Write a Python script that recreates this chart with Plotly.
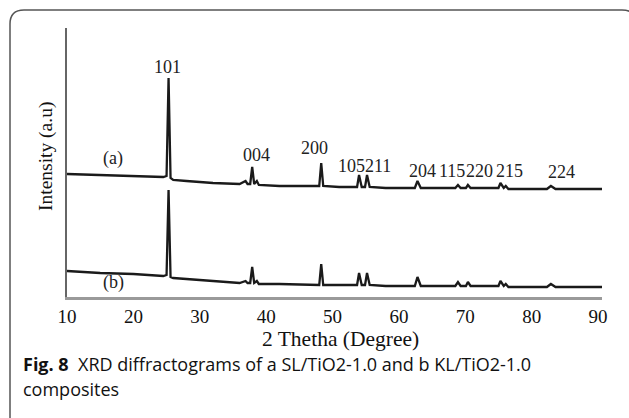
import plotly.graph_objects as go

# ---------------- data ----------------
two_theta_a = [10, 15, 20, 24.5, 25.0, 25.3, 25.6, 26.0, 28, 32, 36, 36.9, 37.2, 37.6, 37.9, 38.2, 38.6, 38.9,
               42, 46, 48.0, 48.3, 48.6, 51, 53.7, 54.0, 54.4, 54.9, 55.2, 55.6, 58, 62.4, 62.8, 63.3,
               68.5, 68.9, 69.3, 70.1, 70.4, 70.8, 75.0, 75.3, 75.8, 76.1, 76.5, 82.3, 82.9, 83.6, 90.6]
intensity_a = [123, 122, 121, 120, 121, 219, 119, 117, 116, 114, 113, 116, 113, 113, 130, 113, 116, 112,
               111, 111, 111, 134, 111, 110, 110, 122, 110, 110, 122, 110, 109, 109, 116, 109,
               109, 112, 109, 109, 112, 109, 109, 114, 109, 111, 108, 108, 111, 108, 108]

two_theta_b = [10, 15, 20, 24.5, 25.0, 25.3, 25.6, 26.0, 30, 36, 36.9, 37.2, 37.6, 37.9, 38.2, 38.6, 38.9,
               42, 48.0, 48.3, 48.6, 53.7, 54.0, 54.4, 54.9, 55.2, 55.6, 58, 62.4, 62.8, 63.3,
               68.5, 68.9, 69.3, 70.1, 70.4, 70.8, 75.0, 75.3, 75.8, 76.1, 76.5, 82.3, 82.9, 83.6, 90.6]
intensity_b = [26, 24, 23, 21, 22, 107, 20, 19, 17, 14, 16, 14, 14, 30, 14, 16, 13,
               13, 12, 33, 12, 12, 24, 12, 12, 24, 12, 11, 11, 20, 11,
               11, 15, 11, 11, 15, 11, 11, 16, 11, 13, 10, 10, 13, 10, 10]

peak_labels = ["101", "004", "200", "105", "211", "204", "115", "220", "215", "224"]
label_x = [25.2, 38.6, 47.3, 52.9, 56.8, 63.5, 68.0, 72.2, 76.7, 84.5]
label_y = [230, 142, 149, 131, 131, 126, 126, 126, 126, 125]

x_ticks = [10, 20, 30, 40, 50, 60, 70, 80, 90]

W, H = 629, 418
ML, MR, MT, MB = 67, 27, 28, 121
PW, PH = W - ML - MR, H - MT - MB


def px(x):
    return (x - ML) / PW


def py(y):
    return 1 - (y - MT) / PH


serif = "Liberation Serif"
line_col = "#1a1a1a"

fig = go.Figure()
fig.add_trace(go.Scatter(x=two_theta_a, y=intensity_a, mode="lines",
                         line=dict(color=line_col, width=2.3), hoverinfo="skip"))
fig.add_trace(go.Scatter(x=two_theta_b, y=intensity_b, mode="lines",
                         line=dict(color=line_col, width=2.3), hoverinfo="skip"))

for t, xx, yy in zip(peak_labels, label_x, label_y):
    fig.add_annotation(x=xx, y=yy, text=t, showarrow=False, xref="x", yref="y",
                       xanchor="center", yanchor="middle",
                       font=dict(family=serif, size=18, color="#222"))

fig.add_annotation(x=17.0, y=139, text="(a)", showarrow=False, xref="x", yref="y",
                   xanchor="center", yanchor="middle",
                   font=dict(family=serif, size=18, color="#222"))
fig.add_annotation(x=17.0, y=15, text="(b)", showarrow=False, xref="x", yref="y",
                   xanchor="center", yanchor="middle",
                   font=dict(family=serif, size=18, color="#222"))

# x title
fig.add_annotation(x=px(340), y=py(339), xref="paper", yref="paper", text="2 Thetha (Degree)",
                   xanchor="center", yanchor="middle",
                   showarrow=False, font=dict(family=serif, size=21.5, color="#111"))
# y title
fig.add_annotation(x=px(46), y=py(157), xref="paper", yref="paper", text="Intensity (a.u)",
                   xanchor="center", yanchor="middle",
                   showarrow=False, textangle=-90, font=dict(family=serif, size=19.5, color="#111"))

# caption
fig.add_annotation(x=px(21), y=py(364), xref="paper", yref="paper", xanchor="left", yanchor="middle",
                   text="<b>Fig. 8</b>  XRD diffractograms of a SL/TiO2-1.0 and b KL/TiO2-1.0",
                   showarrow=False, font=dict(family="Open Sans", size=18, color="#111"))
fig.add_annotation(x=px(21), y=py(389), xref="paper", yref="paper", xanchor="left", yanchor="middle",
                   text="composites",
                   showarrow=False, font=dict(family="Open Sans", size=18, color="#111"))

# rounded frame
path = (f"M {px(10)},{py(430)} L {px(10)},{py(24)} Q {px(10)},{py(10)} {px(24)},{py(10)} "
        f"L {px(622)},{py(10)} Q {px(636)},{py(10)} {px(636)},{py(24)} L {px(636)},{py(430)}")
fig.add_shape(type="path", path=path, xref="paper", yref="paper",
              line=dict(color="#555", width=1.5))

fig.update_layout(
    width=W, height=H,
    margin=dict(l=ML, r=MR, t=MT, b=MB),
    paper_bgcolor="white", plot_bgcolor="white",
    showlegend=False,
    xaxis=dict(range=[10, 90.6], tickvals=x_ticks, ticks="", showgrid=False, zeroline=False,
               showline=True, linecolor="#9a9a9a", linewidth=2.5,
               tickfont=dict(family=serif, size=19, color="#111"), ticklabelstandoff=0),
    yaxis=dict(range=[0, 269], showticklabels=False, ticks="", showgrid=False, zeroline=False,
               showline=True, linecolor="#666", linewidth=1.5),
)

fig.write_html("out.html")
